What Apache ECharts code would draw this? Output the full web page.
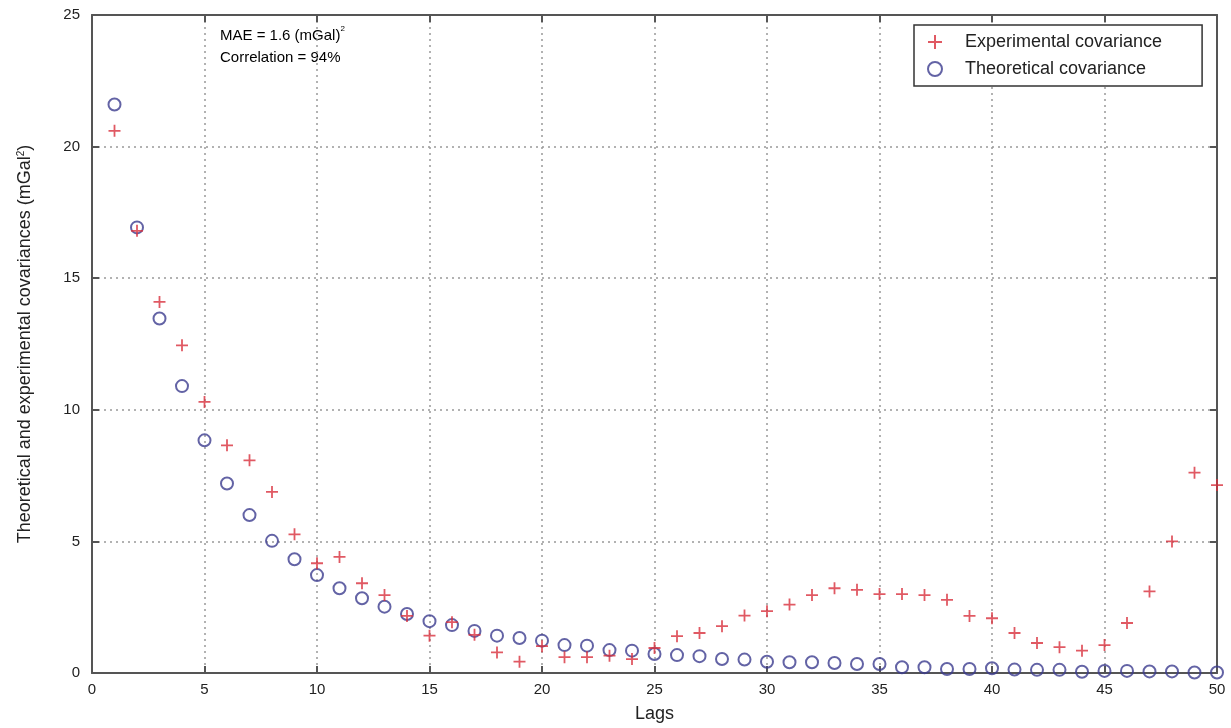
<!DOCTYPE html>
<html>
<head>
<meta charset="utf-8">
<script src="https://cdn.jsdelivr.net/npm/echarts@6/dist/echarts.min.js"></script>
<style>
  html, body { margin: 0; padding: 0; background: #fff; }
  #chart { width: 1231px; height: 728px; }
</style>
</head>
<body>
<div id="chart"></div>
<script>
// 滞后数 1..50
var lags = [];
for (var i = 1; i <= 50; i++) lags.push(i);

// 实验协方差（+）
var experimental = [
    20.6, 16.8, 14.1, 12.45, 10.3, 8.65, 8.08, 6.88, 5.27, 4.17,
    4.41, 3.41, 2.96, 2.17, 1.42, 1.93, 1.45, 0.78, 0.43, 1.02,
    0.6, 0.6, 0.66, 0.53, 0.95, 1.4, 1.52, 1.78, 2.18, 2.35,
    2.6, 2.96, 3.22, 3.16, 3.0, 3.0, 2.96, 2.78, 2.17, 2.08,
    1.52, 1.14, 0.98, 0.85, 1.06, 1.9, 3.1, 5.0, 7.61, 7.14
];

// 理论协方差（o）
var theoretical = [
    21.6, 16.93, 13.47, 10.9, 8.84, 7.2, 6.0, 5.02, 4.32, 3.72,
    3.22, 2.84, 2.52, 2.24, 1.97, 1.82, 1.6, 1.42, 1.33, 1.23,
    1.06, 1.04, 0.87, 0.85, 0.72, 0.68, 0.64, 0.53, 0.51, 0.43,
    0.41, 0.41, 0.38, 0.34, 0.34, 0.22, 0.22, 0.15, 0.15, 0.18,
    0.13, 0.12, 0.12, 0.05, 0.08, 0.08, 0.06, 0.06, 0.02, 0.02
];

var xTicks = { min: 0, max: 50, interval: 5 };
var yTicks = { min: 0, max: 25, interval: 5 };

var font = 'Liberation Sans, Arial, sans-serif';
var axisColor = '#555';
var plusPath = 'path://M0,5L10,5M5,0L5,10';

function pairs(ys) {
    return lags.map(function (x, k) { return [x, ys[k]]; });
}

function frameAxis(pos, ticks) {
    return {
        type: 'value',
        position: pos,
        min: ticks.min, max: ticks.max, interval: ticks.interval,
        axisLine: { show: true, onZero: false, lineStyle: { color: axisColor, width: 2 } },
        axisTick: { show: true, inside: true, length: 7, lineStyle: { color: axisColor, width: 2 } },
        axisLabel: { show: false },
        splitLine: { show: false }
    };
}

var chart = echarts.init(document.getElementById('chart'));
chart.setOption({
    backgroundColor: '#fff',
    animation: false,
    grid: { left: 92, right: 14, top: 15, bottom: 54 },
    legend: {
        orient: 'vertical',
        left: 914,
        top: 25,
        padding: [8, 40, 8, 13],
        itemWidth: 14,
        itemHeight: 14,
        itemGap: 9,
        borderColor: '#333',
        borderWidth: 1.5,
        backgroundColor: '#fff',
        selectedMode: false,
        textStyle: { fontFamily: font, fontSize: 18, color: '#222', padding: [0, 0, 0, 18] },
        data: ['Experimental covariance', 'Theoretical covariance']
    },
    xAxis: [{
        type: 'value',
        min: xTicks.min, max: xTicks.max, interval: xTicks.interval,
        name: 'Lags',
        nameLocation: 'middle',
        nameGap: 32,
        nameTextStyle: { fontFamily: font, fontSize: 18, color: '#222' },
        axisLine: { show: true, onZero: false, lineStyle: { color: axisColor, width: 2 } },
        axisTick: { show: true, inside: true, length: 7, lineStyle: { color: axisColor, width: 2 } },
        axisLabel: { fontFamily: font, fontSize: 15, color: '#222', margin: 9 },
        splitLine: { show: true, lineStyle: { color: '#999', type: [2, 4], width: 1.5 } }
    }, frameAxis('top', xTicks)],
    yAxis: [{
        type: 'value',
        min: yTicks.min, max: yTicks.max, interval: yTicks.interval,
        name: '{a|Theoretical and experimental covariances (mGal}{s|2}{a|)}',
        nameLocation: 'middle',
        nameGap: 58,
        nameTextStyle: {
            rich: {
                a: { fontFamily: font, fontSize: 18, color: '#222' },
                s: { fontFamily: font, fontSize: 10, color: '#222', verticalAlign: 'top', padding: [0, 0, 8, 0] }
            }
        },
        axisLine: { show: true, onZero: false, lineStyle: { color: axisColor, width: 2 } },
        axisTick: { show: true, inside: true, length: 7, lineStyle: { color: axisColor, width: 2 } },
        axisLabel: { fontFamily: font, fontSize: 15, color: '#222', margin: 12 },
        splitLine: { show: true, lineStyle: { color: '#999', type: [2, 4], width: 1.5 } }
    }, frameAxis('right', yTicks)],
    graphic: [{
        type: 'text',
        left: 220,
        top: 25,
        style: {
            text: '{a|MAE = 1.6 (mGal)}{s|2}\n{a|Correlation = 94%}',
            rich: {
                a: { fontFamily: font, fontSize: 15, color: '#222', lineHeight: 22 },
                s: { fontFamily: font, fontSize: 8, color: '#222', lineHeight: 22, verticalAlign: 'top' }
            }
        }
    }],
    series: [{
        name: 'Theoretical covariance',
        type: 'scatter',
        clip: false,
        symbol: 'circle',
        symbolSize: 12,
        itemStyle: { color: 'rgba(0,0,0,0)', borderColor: '#3c3c8e', borderWidth: 2 },
        data: pairs(theoretical)
    }, {
        name: 'Experimental covariance',
        type: 'scatter',
        clip: false,
        symbol: plusPath,
        symbolSize: 12,
        itemStyle: { color: 'rgba(0,0,0,0)', borderColor: '#d8303c', borderWidth: 1.8 },
        data: pairs(experimental)
    }]
});
</script>
</body>
</html>
